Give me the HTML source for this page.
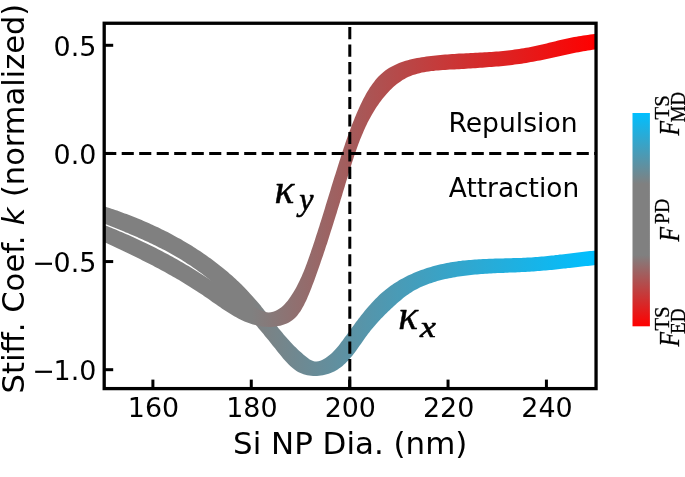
<!DOCTYPE html>
<html lang="en"><head><meta charset="utf-8"><title>Stiffness coefficient vs Si NP diameter</title>
<style>
html,body{margin:0;padding:0;background:#fff;}
body{width:685px;height:477px;overflow:hidden;}
svg{display:block;will-change:transform;}
.s{font-family:"DejaVu Sans","Liberation Sans",sans-serif;fill:#000;}
.m{font-family:"Liberation Serif","DejaVu Serif",serif;fill:#000;}
</style></head><body>
<svg width="685" height="477" viewBox="0 0 685 477">
<defs>
<linearGradient id="gy" gradientUnits="userSpaceOnUse" x1="104.2" y1="0" x2="596.05" y2="0">
<stop offset="0" stop-color="#808080"/><stop offset="0.30" stop-color="#808080"/><stop offset="1" stop-color="#ff0000"/>
</linearGradient>
<linearGradient id="gx" gradientUnits="userSpaceOnUse" x1="104.2" y1="0" x2="596.05" y2="0">
<stop offset="0" stop-color="#808080"/><stop offset="0.30" stop-color="#808080"/><stop offset="1" stop-color="#00bfff"/>
</linearGradient>
<linearGradient id="cb" x1="0" y1="0" x2="0" y2="1">
<stop offset="0" stop-color="#00bfff"/><stop offset="0.3333" stop-color="#808080"/><stop offset="0.6667" stop-color="#808080"/><stop offset="1" stop-color="#ff0000"/>
</linearGradient>
<clipPath id="ax"><rect x="104.2" y="23.25" width="491.84999999999997" height="365.35"/></clipPath>
</defs>
<rect width="685" height="477" fill="#fff"/>
<g clip-path="url(#ax)" stroke="none">
<path fill="url(#gx)" d="M94.1,203.3 L96.0,203.9 L98.0,204.4 L99.9,205.0 L101.8,205.6 L103.7,206.2 L105.6,206.8 L107.6,207.4 L109.5,208.0 L111.4,208.7 L113.3,209.3 L115.2,210.0 L117.1,210.6 L119.0,211.3 L120.9,212.0 L122.8,212.7 L124.7,213.4 L126.6,214.1 L128.5,214.8 L130.4,215.5 L132.3,216.3 L134.2,217.0 L136.1,217.8 L137.9,218.5 L139.8,219.3 L141.7,220.1 L143.6,220.9 L145.4,221.7 L147.3,222.5 L149.1,223.3 L151.0,224.2 L152.8,225.0 L154.7,225.9 L156.5,226.7 L158.4,227.6 L160.2,228.5 L162.0,229.4 L163.8,230.3 L165.7,231.2 L167.5,232.1 L169.3,233.0 L171.1,234.0 L172.9,234.9 L174.6,235.9 L176.4,236.9 L178.2,237.9 L180.0,238.8 L181.7,239.8 L183.5,240.9 L185.3,241.9 L187.0,242.9 L188.7,244.0 L190.5,245.0 L192.2,246.1 L193.9,247.2 L195.6,248.3 L197.3,249.4 L199.0,250.5 L200.7,251.6 L202.4,252.7 L204.1,253.9 L205.7,255.0 L207.4,256.2 L209.0,257.4 L210.7,258.6 L212.3,259.8 L213.9,261.0 L215.5,262.2 L217.1,263.4 L218.7,264.7 L220.3,265.9 L221.9,267.2 L223.5,268.4 L225.0,269.7 L226.6,271.0 L228.1,272.3 L229.6,273.7 L231.2,275.0 L232.7,276.3 L234.2,277.7 L235.7,279.1 L237.1,280.4 L238.6,281.8 L240.1,283.2 L241.5,284.6 L242.9,286.1 L244.4,287.5 L245.8,288.9 L247.2,290.4 L248.6,291.9 L249.9,293.4 L251.3,294.9 L252.7,296.4 L254.0,297.9 L255.3,299.4 L256.7,301.0 L258.0,302.5 L259.3,304.1 L260.6,305.6 L261.8,307.2 L263.1,308.8 L264.4,310.4 L265.7,312.0 L266.9,313.6 L268.2,315.2 L269.5,316.8 L270.7,318.4 L272.0,320.0 L273.3,321.6 L274.5,323.2 L275.8,324.8 L277.1,326.3 L278.3,327.9 L279.6,329.5 L280.9,331.1 L282.2,332.6 L283.5,334.2 L284.8,335.7 L286.2,337.3 L287.5,338.8 L288.9,340.3 L290.2,341.8 L291.6,343.3 L293.0,344.7 L294.4,346.2 L295.9,347.6 L297.3,349.0 L298.8,350.4 L300.3,351.8 L301.8,353.1 L303.3,354.5 L304.9,355.8 L306.5,357.1 L308.1,358.3 L309.7,359.4 L311.4,360.3 L313.1,361.0 L314.8,361.4 L316.6,361.5 L318.4,361.3 L320.3,360.7 L322.1,359.9 L323.9,359.0 L325.6,357.9 L327.3,356.8 L328.9,355.6 L330.5,354.3 L332.0,352.9 L333.4,351.5 L334.8,350.0 L336.2,348.5 L337.5,347.0 L338.8,345.4 L340.1,343.8 L341.3,342.1 L342.6,340.5 L343.8,338.8 L345.0,337.1 L346.3,335.4 L347.5,333.8 L348.7,332.1 L349.9,330.4 L351.1,328.8 L352.4,327.1 L353.6,325.4 L354.8,323.8 L356.0,322.1 L357.3,320.5 L358.5,318.8 L359.8,317.2 L361.0,315.6 L362.3,314.0 L363.5,312.4 L364.8,310.8 L366.1,309.3 L367.4,307.7 L368.7,306.2 L370.1,304.7 L371.4,303.2 L372.8,301.7 L374.2,300.2 L375.6,298.8 L377.0,297.4 L378.4,296.0 L379.9,294.6 L381.3,293.3 L382.8,292.0 L384.4,290.7 L385.9,289.4 L387.5,288.2 L389.1,287.0 L390.7,285.8 L392.3,284.7 L394.0,283.5 L395.7,282.4 L397.4,281.4 L399.1,280.3 L400.9,279.3 L402.6,278.4 L404.4,277.4 L406.2,276.5 L408.0,275.6 L409.9,274.7 L411.7,273.9 L413.6,273.1 L415.4,272.3 L417.3,271.5 L419.2,270.8 L421.1,270.1 L423.1,269.4 L425.0,268.7 L426.9,268.1 L428.9,267.5 L430.8,266.9 L432.8,266.3 L434.8,265.8 L436.8,265.3 L438.7,264.8 L440.7,264.3 L442.7,263.9 L444.7,263.4 L446.7,263.1 L448.7,262.7 L450.7,262.3 L452.7,262.0 L454.7,261.7 L456.7,261.4 L458.7,261.1 L460.7,260.9 L462.7,260.6 L464.7,260.4 L466.8,260.2 L468.8,260.0 L470.8,259.9 L472.8,259.7 L474.8,259.6 L476.8,259.4 L478.8,259.3 L480.8,259.2 L482.9,259.1 L484.9,259.0 L486.9,258.9 L488.9,258.8 L490.9,258.8 L493.0,258.7 L495.0,258.6 L497.0,258.6 L499.0,258.5 L501.0,258.5 L503.1,258.4 L505.1,258.3 L507.1,258.3 L509.1,258.2 L511.2,258.2 L513.2,258.1 L515.2,258.1 L517.2,258.0 L519.3,257.9 L521.3,257.9 L523.3,257.8 L525.3,257.7 L527.4,257.6 L529.4,257.5 L531.4,257.4 L533.4,257.2 L535.4,257.1 L537.5,256.9 L539.5,256.8 L541.5,256.6 L543.5,256.4 L545.5,256.2 L547.6,256.0 L549.6,255.8 L551.6,255.6 L553.6,255.4 L555.6,255.1 L557.7,254.9 L559.7,254.6 L561.7,254.4 L563.7,254.2 L565.7,253.9 L567.8,253.7 L569.8,253.4 L571.8,253.2 L573.8,252.9 L575.8,252.7 L577.8,252.4 L579.8,252.2 L581.9,252.0 L583.9,251.7 L585.9,251.5 L587.9,251.3 L589.9,251.1 L591.9,250.9 L593.9,250.7 L595.9,250.5 L598.0,250.4 L600.0,250.2 L602.0,250.1 L604.0,249.9 L604.0,264.4 L602.0,264.5 L600.0,264.7 L598.0,264.9 L596.0,265.1 L593.9,265.3 L591.9,265.5 L589.9,265.7 L587.9,265.9 L585.9,266.1 L583.9,266.3 L581.9,266.5 L579.9,266.8 L577.9,267.0 L575.9,267.2 L573.8,267.4 L571.8,267.7 L569.8,267.9 L567.8,268.1 L565.8,268.4 L563.8,268.6 L561.8,268.8 L559.8,269.0 L557.8,269.3 L555.8,269.5 L553.8,269.7 L551.8,269.9 L549.8,270.1 L547.8,270.3 L545.8,270.5 L543.8,270.6 L541.7,270.8 L539.7,271.0 L537.7,271.1 L535.7,271.3 L533.7,271.4 L531.7,271.6 L529.6,271.7 L527.6,271.8 L525.6,271.9 L523.6,272.0 L521.6,272.1 L519.5,272.2 L517.5,272.3 L515.5,272.4 L513.5,272.5 L511.4,272.5 L509.4,272.6 L507.4,272.7 L505.4,272.8 L503.3,272.9 L501.3,273.0 L499.3,273.1 L497.3,273.1 L495.2,273.2 L493.2,273.3 L491.2,273.5 L489.2,273.6 L487.1,273.7 L485.1,273.8 L483.1,274.0 L481.1,274.1 L479.1,274.3 L477.1,274.4 L475.1,274.6 L473.0,274.8 L471.0,275.0 L469.0,275.2 L467.0,275.4 L465.0,275.7 L463.0,276.0 L461.0,276.2 L459.0,276.5 L457.0,276.8 L455.1,277.2 L453.1,277.5 L451.1,277.9 L449.1,278.3 L447.1,278.7 L445.2,279.1 L443.2,279.6 L441.2,280.1 L439.3,280.6 L437.3,281.1 L435.4,281.7 L433.5,282.3 L431.6,282.9 L429.6,283.5 L427.8,284.2 L425.9,284.9 L424.0,285.7 L422.2,286.5 L420.3,287.3 L418.5,288.2 L416.7,289.2 L415.0,290.1 L413.2,291.1 L411.5,292.2 L409.8,293.3 L408.1,294.4 L406.5,295.6 L404.8,296.8 L403.2,298.1 L401.6,299.4 L400.1,300.7 L398.5,302.0 L397.0,303.3 L395.5,304.7 L394.0,306.0 L392.5,307.4 L391.0,308.8 L389.6,310.2 L388.1,311.6 L386.7,312.9 L385.3,314.3 L383.9,315.8 L382.5,317.2 L381.1,318.6 L379.8,320.0 L378.4,321.5 L377.1,323.0 L375.8,324.5 L374.5,326.0 L373.2,327.5 L371.9,329.0 L370.6,330.6 L369.4,332.2 L368.1,333.8 L366.9,335.4 L365.7,337.1 L364.5,338.8 L363.3,340.5 L362.1,342.2 L360.9,343.9 L359.7,345.6 L358.5,347.3 L357.3,349.0 L356.1,350.7 L354.8,352.4 L353.6,354.1 L352.3,355.7 L351.0,357.3 L349.7,358.8 L348.3,360.4 L346.9,361.8 L345.5,363.3 L344.0,364.6 L342.5,365.9 L340.9,367.2 L339.3,368.3 L337.7,369.4 L336.0,370.5 L334.2,371.4 L332.4,372.3 L330.6,373.0 L328.7,373.7 L326.8,374.3 L324.9,374.8 L322.9,375.3 L320.9,375.6 L319.0,375.8 L317.0,376.0 L315.0,376.0 L313.1,376.0 L311.1,375.8 L309.2,375.6 L307.2,375.2 L305.3,374.8 L303.5,374.2 L301.7,373.5 L299.9,372.8 L298.1,371.9 L296.5,370.9 L294.8,369.8 L293.2,368.6 L291.7,367.3 L290.2,366.0 L288.7,364.6 L287.3,363.1 L285.9,361.6 L284.5,360.0 L283.1,358.4 L281.8,356.8 L280.4,355.1 L279.1,353.5 L277.8,351.9 L276.5,350.2 L275.2,348.6 L273.9,347.0 L272.6,345.4 L271.3,343.8 L270.1,342.2 L268.8,340.6 L267.5,339.0 L266.2,337.4 L264.9,335.9 L263.7,334.3 L262.4,332.8 L261.1,331.2 L259.8,329.7 L258.5,328.2 L257.2,326.6 L255.9,325.1 L254.6,323.6 L253.3,322.1 L252.0,320.6 L250.7,319.1 L249.4,317.6 L248.0,316.2 L246.7,314.7 L245.3,313.2 L244.0,311.7 L242.6,310.3 L241.2,308.8 L239.8,307.4 L238.4,305.9 L237.0,304.5 L235.6,303.1 L234.1,301.7 L232.7,300.3 L231.3,298.8 L229.8,297.5 L228.3,296.1 L226.8,294.7 L225.4,293.3 L223.9,291.9 L222.4,290.6 L220.8,289.2 L219.3,287.9 L217.8,286.6 L216.2,285.3 L214.7,283.9 L213.1,282.6 L211.6,281.4 L210.0,280.1 L208.4,278.8 L206.8,277.6 L205.2,276.3 L203.6,275.1 L202.0,273.8 L200.3,272.6 L198.7,271.4 L197.1,270.2 L195.4,269.1 L193.8,267.9 L192.1,266.7 L190.4,265.6 L188.7,264.5 L187.0,263.4 L185.3,262.3 L183.6,261.2 L181.9,260.1 L180.2,259.0 L178.5,258.0 L176.7,257.0 L175.0,256.0 L173.2,255.0 L171.5,254.0 L169.7,253.0 L168.0,252.0 L166.2,251.1 L164.4,250.1 L162.6,249.2 L160.8,248.3 L159.0,247.4 L157.2,246.5 L155.4,245.6 L153.6,244.7 L151.8,243.8 L149.9,242.9 L148.1,242.1 L146.3,241.2 L144.5,240.4 L142.6,239.6 L140.8,238.7 L138.9,237.9 L137.1,237.1 L135.2,236.3 L133.4,235.5 L131.5,234.7 L129.6,233.9 L127.8,233.1 L125.9,232.4 L124.0,231.6 L122.2,230.8 L120.3,230.0 L118.4,229.3 L116.6,228.5 L114.7,227.8 L112.8,227.0 L110.9,226.2 L109.1,225.5 L107.2,224.7 L105.3,224.0 L103.4,223.2 L101.6,222.5 L99.7,221.7 L97.8,220.9 L95.9,220.2 L94.1,219.4Z"/>
<path fill="url(#gy)" d="M94.0,221.1 L96.1,221.9 L98.3,222.8 L100.5,223.6 L102.7,224.4 L104.8,225.3 L107.0,226.1 L109.2,227.0 L111.3,227.8 L113.5,228.7 L115.6,229.6 L117.8,230.5 L119.9,231.4 L122.1,232.3 L124.2,233.2 L126.4,234.2 L128.5,235.1 L130.6,236.0 L132.8,237.0 L134.9,238.0 L137.0,238.9 L139.1,239.9 L141.2,240.9 L143.3,241.9 L145.5,242.9 L147.6,243.9 L149.6,245.0 L151.7,246.0 L153.8,247.0 L155.9,248.1 L158.0,249.2 L160.1,250.2 L162.1,251.3 L164.2,252.4 L166.2,253.5 L168.3,254.6 L170.3,255.7 L172.4,256.8 L174.4,258.0 L176.4,259.1 L178.5,260.2 L180.5,261.4 L182.5,262.6 L184.5,263.7 L186.5,264.9 L188.5,266.1 L190.5,267.3 L192.5,268.5 L194.5,269.7 L196.5,270.9 L198.4,272.2 L200.4,273.4 L202.4,274.7 L204.3,275.9 L206.3,277.2 L208.2,278.4 L210.2,279.7 L212.1,280.9 L214.1,282.2 L216.0,283.5 L218.0,284.8 L219.9,286.0 L221.9,287.3 L223.8,288.6 L225.8,289.9 L227.7,291.1 L229.7,292.4 L231.7,293.7 L233.7,295.0 L235.6,296.2 L237.6,297.5 L239.6,298.7 L241.6,300.0 L243.6,301.2 L245.6,302.4 L247.7,303.6 L249.7,304.8 L251.8,305.9 L253.8,307.0 L255.9,308.1 L258.0,309.1 L260.1,310.0 L262.3,310.9 L264.4,311.6 L266.6,312.2 L268.7,312.4 L270.9,312.3 L273.1,311.8 L275.2,311.0 L277.2,310.0 L279.2,308.8 L281.1,307.4 L282.9,305.9 L284.6,304.3 L286.1,302.5 L287.7,300.7 L289.1,298.8 L290.5,296.8 L291.8,294.8 L293.1,292.8 L294.3,290.8 L295.5,288.7 L296.6,286.7 L297.7,284.6 L298.7,282.5 L299.7,280.4 L300.7,278.3 L301.7,276.2 L302.6,274.1 L303.5,271.9 L304.4,269.8 L305.2,267.7 L306.0,265.5 L306.9,263.3 L307.6,261.2 L308.4,259.0 L309.2,256.8 L310.0,254.6 L310.7,252.5 L311.4,250.3 L312.2,248.1 L312.9,245.9 L313.7,243.6 L314.4,241.4 L315.1,239.2 L315.8,237.0 L316.5,234.8 L317.3,232.6 L318.0,230.3 L318.7,228.1 L319.4,225.9 L320.1,223.6 L320.8,221.4 L321.5,219.2 L322.2,216.9 L322.9,214.7 L323.6,212.4 L324.3,210.2 L325.0,207.9 L325.6,205.7 L326.3,203.5 L327.0,201.2 L327.7,199.0 L328.4,196.7 L329.1,194.5 L329.8,192.2 L330.5,190.0 L331.1,187.8 L331.8,185.5 L332.5,183.3 L333.2,181.1 L333.9,178.8 L334.6,176.6 L335.3,174.4 L336.0,172.2 L336.7,169.9 L337.4,167.7 L338.1,165.5 L338.8,163.3 L339.5,161.1 L340.2,158.9 L340.9,156.7 L341.6,154.5 L342.3,152.3 L343.0,150.2 L343.7,148.0 L344.5,145.8 L345.2,143.6 L345.9,141.5 L346.7,139.3 L347.4,137.2 L348.2,135.0 L349.0,132.8 L349.8,130.7 L350.6,128.5 L351.4,126.4 L352.2,124.2 L353.1,122.0 L354.0,119.9 L354.8,117.7 L355.8,115.5 L356.7,113.3 L357.6,111.2 L358.6,109.0 L359.6,106.8 L360.6,104.6 L361.6,102.4 L362.7,100.2 L363.8,98.1 L365.0,95.9 L366.1,93.8 L367.3,91.7 L368.6,89.7 L369.9,87.6 L371.2,85.7 L372.6,83.7 L374.0,81.9 L375.4,80.0 L376.9,78.3 L378.5,76.6 L380.1,75.0 L381.8,73.4 L383.5,72.0 L385.3,70.6 L387.1,69.3 L389.0,68.1 L390.9,67.0 L392.9,65.9 L394.9,64.9 L397.0,64.0 L399.1,63.1 L401.2,62.3 L403.4,61.5 L405.6,60.8 L407.8,60.2 L410.1,59.6 L412.4,59.1 L414.7,58.6 L417.0,58.1 L419.3,57.7 L421.6,57.3 L424.0,56.9 L426.3,56.6 L428.7,56.3 L431.0,56.0 L433.3,55.7 L435.7,55.4 L438.0,55.2 L440.4,55.0 L442.7,54.8 L445.1,54.6 L447.4,54.4 L449.7,54.2 L452.1,54.1 L454.4,53.9 L456.7,53.8 L459.0,53.6 L461.4,53.5 L463.7,53.4 L466.0,53.3 L468.3,53.2 L470.7,53.0 L473.0,52.9 L475.3,52.8 L477.6,52.7 L479.9,52.6 L482.2,52.4 L484.6,52.3 L486.9,52.2 L489.2,52.0 L491.5,51.9 L493.8,51.7 L496.1,51.5 L498.4,51.4 L500.7,51.2 L503.0,51.0 L505.3,50.7 L507.6,50.5 L509.9,50.2 L512.2,49.9 L514.5,49.6 L516.8,49.3 L519.1,49.0 L521.4,48.6 L523.7,48.2 L526.0,47.8 L528.3,47.4 L530.6,46.9 L532.9,46.5 L535.2,46.0 L537.4,45.5 L539.7,45.0 L542.0,44.4 L544.3,43.9 L546.6,43.4 L548.9,42.8 L551.2,42.3 L553.5,41.7 L555.7,41.2 L558.0,40.6 L560.3,40.1 L562.6,39.6 L564.9,39.1 L567.2,38.6 L569.5,38.1 L571.8,37.6 L574.1,37.1 L576.4,36.7 L578.6,36.3 L580.9,35.9 L583.2,35.5 L585.5,35.2 L587.8,34.9 L590.1,34.6 L592.4,34.3 L594.7,34.1 L597.0,34.0 L599.3,33.8 L601.6,33.7 L603.9,33.7 L604.0,48.4 L601.7,48.6 L599.4,48.9 L597.1,49.2 L594.8,49.5 L592.5,49.8 L590.2,50.2 L587.9,50.5 L585.6,50.9 L583.3,51.3 L581.0,51.7 L578.7,52.2 L576.4,52.6 L574.1,53.1 L571.8,53.5 L569.6,54.0 L567.3,54.5 L565.0,55.0 L562.7,55.5 L560.5,56.0 L558.2,56.5 L555.9,57.0 L553.6,57.4 L551.4,57.9 L549.1,58.4 L546.8,58.9 L544.5,59.4 L542.3,59.9 L540.0,60.4 L537.7,60.8 L535.4,61.3 L533.1,61.7 L530.8,62.1 L528.5,62.5 L526.3,62.9 L524.0,63.3 L521.7,63.7 L519.4,64.0 L517.0,64.3 L514.7,64.6 L512.4,64.9 L510.1,65.2 L507.8,65.4 L505.5,65.7 L503.2,65.9 L500.8,66.2 L498.5,66.4 L496.2,66.6 L493.9,66.8 L491.6,67.0 L489.2,67.1 L486.9,67.3 L484.6,67.5 L482.3,67.7 L480.0,67.8 L477.6,68.0 L475.3,68.2 L473.0,68.3 L470.7,68.5 L468.4,68.6 L466.1,68.7 L463.8,68.9 L461.4,69.0 L459.1,69.2 L456.8,69.3 L454.5,69.4 L452.2,69.5 L449.8,69.6 L447.5,69.8 L445.2,69.9 L442.9,70.1 L440.5,70.2 L438.2,70.4 L435.9,70.6 L433.5,70.9 L431.2,71.1 L428.9,71.5 L426.5,71.8 L424.2,72.2 L421.9,72.6 L419.6,73.2 L417.3,73.7 L415.1,74.4 L412.9,75.1 L410.7,75.9 L408.6,76.8 L406.5,77.8 L404.5,78.9 L402.5,80.1 L400.6,81.4 L398.7,82.7 L396.9,84.1 L395.1,85.6 L393.3,87.1 L391.6,88.7 L390.0,90.3 L388.4,92.0 L386.8,93.7 L385.3,95.5 L383.8,97.3 L382.3,99.1 L380.9,101.0 L379.5,102.8 L378.2,104.7 L376.9,106.6 L375.6,108.6 L374.4,110.5 L373.2,112.5 L372.0,114.5 L370.9,116.5 L369.8,118.5 L368.7,120.6 L367.6,122.6 L366.6,124.7 L365.6,126.8 L364.6,128.9 L363.7,131.0 L362.8,133.2 L361.9,135.3 L361.0,137.5 L360.1,139.6 L359.3,141.8 L358.4,144.0 L357.6,146.2 L356.8,148.4 L356.1,150.6 L355.3,152.8 L354.5,155.0 L353.8,157.3 L353.1,159.5 L352.3,161.7 L351.6,164.0 L350.9,166.2 L350.2,168.4 L349.5,170.7 L348.8,172.9 L348.2,175.1 L347.5,177.4 L346.8,179.6 L346.1,181.8 L345.4,184.1 L344.8,186.3 L344.1,188.5 L343.4,190.7 L342.7,193.0 L342.1,195.2 L341.4,197.4 L340.7,199.6 L340.1,201.8 L339.4,204.0 L338.7,206.3 L338.0,208.5 L337.3,210.7 L336.7,212.9 L336.0,215.1 L335.3,217.3 L334.6,219.5 L333.9,221.7 L333.2,223.9 L332.5,226.2 L331.8,228.4 L331.1,230.6 L330.4,232.8 L329.7,235.0 L329.0,237.2 L328.3,239.4 L327.6,241.7 L326.9,243.9 L326.1,246.1 L325.4,248.3 L324.7,250.5 L323.9,252.7 L323.2,254.9 L322.5,257.1 L321.7,259.3 L320.9,261.5 L320.2,263.7 L319.4,265.9 L318.7,268.1 L317.9,270.3 L317.1,272.5 L316.3,274.7 L315.5,276.9 L314.8,279.1 L314.0,281.3 L313.1,283.4 L312.3,285.6 L311.5,287.8 L310.6,290.0 L309.8,292.1 L308.9,294.3 L307.9,296.5 L307.0,298.7 L306.0,300.9 L304.9,303.0 L303.9,305.2 L302.7,307.3 L301.5,309.4 L300.3,311.4 L298.9,313.3 L297.5,315.2 L296.0,316.9 L294.4,318.5 L292.6,320.0 L290.8,321.3 L288.9,322.4 L286.8,323.4 L284.7,324.3 L282.5,325.1 L280.3,325.7 L278.0,326.1 L275.7,326.5 L273.4,326.8 L271.1,326.9 L268.7,326.9 L266.4,326.8 L264.1,326.7 L261.8,326.4 L259.6,326.0 L257.4,325.6 L255.2,325.1 L253.0,324.5 L250.8,323.8 L248.7,323.1 L246.6,322.2 L244.5,321.4 L242.4,320.4 L240.3,319.5 L238.3,318.4 L236.2,317.3 L234.2,316.2 L232.2,315.0 L230.2,313.8 L228.2,312.6 L226.2,311.3 L224.2,310.0 L222.2,308.7 L220.3,307.3 L218.3,306.0 L216.3,304.6 L214.4,303.3 L212.4,301.9 L210.5,300.5 L208.5,299.1 L206.6,297.8 L204.6,296.4 L202.7,295.1 L200.7,293.8 L198.7,292.5 L196.8,291.2 L194.8,289.9 L192.8,288.7 L190.9,287.4 L188.9,286.2 L186.9,284.9 L184.9,283.7 L182.9,282.5 L180.9,281.3 L179.0,280.1 L177.0,279.0 L175.0,277.8 L173.0,276.7 L171.0,275.5 L169.0,274.4 L166.9,273.3 L164.9,272.1 L162.9,271.0 L160.9,269.9 L158.9,268.8 L156.8,267.8 L154.8,266.7 L152.8,265.6 L150.7,264.5 L148.7,263.5 L146.6,262.4 L144.6,261.4 L142.5,260.4 L140.4,259.3 L138.4,258.3 L136.3,257.3 L134.2,256.3 L132.1,255.2 L130.1,254.2 L128.0,253.2 L125.9,252.2 L123.8,251.2 L121.7,250.2 L119.6,249.2 L117.4,248.2 L115.3,247.2 L113.2,246.3 L111.1,245.3 L108.9,244.3 L106.8,243.3 L104.7,242.3 L102.5,241.3 L100.3,240.3 L98.2,239.4 L96.0,238.4 L93.8,237.4Z"/>
</g>
<g stroke="#000" stroke-width="3" fill="none">
<path stroke-dasharray="12.1 5.4" d="M104.2,153.45 H596.05"/>
<path stroke-dasharray="12.1 5.37" d="M349.8,388.6 V23.25"/>
</g>
<g stroke="#000" stroke-width="3">
<path d="M104.2,45.30 h9"/>
<path d="M104.2,153.43 h9"/>
<path d="M104.2,261.56 h9"/>
<path d="M104.2,369.69 h9"/>
<path d="M152.90,388.6 v-9"/>
<path d="M251.28,388.6 v-9"/>
<path d="M349.66,388.6 v-9"/>
<path d="M448.04,388.6 v-9"/>
<path d="M546.42,388.6 v-9"/>
</g>
<rect x="104.2" y="23.25" width="491.85" height="365.35" fill="none" stroke="#000" stroke-width="3.3"/>
<g class="s" font-size="26.9">
<text x="96.3" y="55.6" text-anchor="end">0.5</text>
<text x="96.3" y="163.7" text-anchor="end">0.0</text>
<text x="96.3" y="271.9" text-anchor="end">−<tspan dx='-1.2'>0.5</tspan></text>
<text x="96.3" y="380.0" text-anchor="end">−<tspan dx='-1.2'>1.0</tspan></text>
<text x="153.5" y="417.3" text-anchor="middle">160</text>
<text x="251.9" y="417.3" text-anchor="middle">180</text>
<text x="350.3" y="417.3" text-anchor="middle">200</text>
<text x="448.6" y="417.3" text-anchor="middle">220</text>
<text x="547.0" y="417.3" text-anchor="middle">240</text>
</g>
<text class="s" font-size="30.9" x="350.2" y="454.2" text-anchor="middle">Si NP Dia. (nm)</text>
<g class="s" transform="translate(23.7,0) rotate(-90)"><text font-size="30.7" x="-393.5" y="0">Stiff. Coef.</text><text font-size="30.6" font-style="italic" x="-225.2" y="0">k</text><text font-size="30.5" x="-197.1" y="0">(normalized)</text></g>
<text class="s" font-size="26.6" x="448.4" y="131.8">Repulsion</text>
<text class="s" font-size="26.4" x="448.8" y="196.8">Attraction</text>
<g class="m" font-style="italic" stroke="#000" stroke-linejoin="round">
<text font-size="41.3" stroke-width="0.5" x="274.6" y="202.6">κ</text><text font-size="32" stroke-width="0.6" x="299.2" y="210">y</text>
<text font-size="41.3" stroke-width="0.5" x="398.3" y="329">κ</text><text font-size="30.5" stroke-width="0.6" transform="translate(420.1,337.3) scale(1.17,1)">x</text>
</g>
<rect x="632.5" y="113" width="17.4" height="213.3" fill="url(#cb)"/>
<g class="m" transform="translate(679,135.6) rotate(-90)"><text font-style="italic" font-size="28.9" stroke="#000" stroke-width="0.3" transform="translate(0,0) scale(0.823,1)">F</text><text font-size="20.8" stroke="#000" stroke-width="0.3" transform="translate(16.2,-10.5) scale(1.0,1)">TS</text><text font-size="20.8" stroke="#000" stroke-width="0.3" transform="translate(13.3,5.5) scale(0.905,1)">MD</text></g>
<g class="m" transform="translate(679,241.5) rotate(-90)"><text font-style="italic" font-size="28.9" stroke="#000" stroke-width="0.3" transform="translate(0,0) scale(0.823,1)">F</text><text font-size="20.8" stroke="#000" stroke-width="0.3" transform="translate(17.5,-10.5) scale(0.95,1)">PD</text></g>
<g class="m" transform="translate(679,346.6) rotate(-90)"><text font-style="italic" font-size="28.9" stroke="#000" stroke-width="0.3" transform="translate(0,0) scale(0.823,1)">F</text><text font-size="20.8" stroke="#000" stroke-width="0.3" transform="translate(16.0,-10.5) scale(1.0,1)">TS</text><text font-size="20.8" stroke="#000" stroke-width="0.3" transform="translate(12.6,5.5) scale(0.923,1)">ED</text></g>
</svg>
</body></html>
